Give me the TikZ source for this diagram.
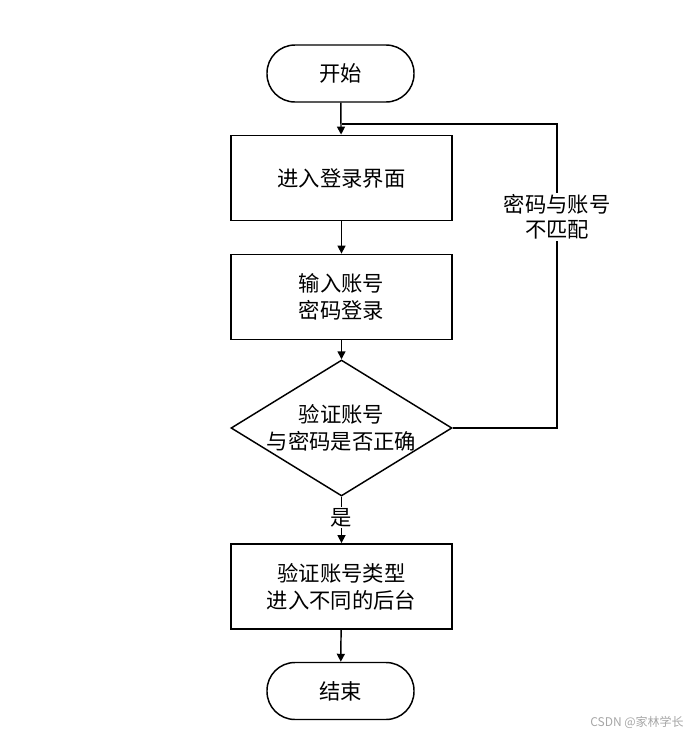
\documentclass[tikz,border=0pt]{standalone}
\usepackage{fontspec}
\newfontfamily\cjk{Noto Sans CJK SC}
\usetikzlibrary{shapes.geometric,arrows.meta}
\begin{document}
\begin{tikzpicture}[x=0.75pt,y=-0.75pt,
  line width=1.1pt,
  every node/.style={font=\cjk\fontsize{16}{20}\selectfont, align=center},
  term/.style={draw, rounded corners=21pt, minimum width=110.25pt, minimum height=42.75pt, inner sep=0pt},
  procbox/.style={draw, minimum width=165.75pt, minimum height=64pt, inner sep=0pt},
  arr/.style={-{Triangle[length=6pt,width=6pt]}},
  lbl/.style={fill=white, inner sep=1pt}]
\useasboundingbox (0,0) rectangle (695,736);
\node[term] (start) at (340.5,73.5) {开始};
\node[procbox] (b1) at (341.5,178) {进入登录界面};
\node[procbox] (b2) at (341.5,297) {输入账号\\密码登录};
\node[diamond, draw, minimum width=165.75pt, minimum height=102pt, inner sep=0pt] (d) at (341.5,428) {};
\node at (d) {验证账号\\与密码是否正确};
\node[procbox] (b3) at (341.5,586.5) {验证账号类型\\进入不同的后台};
\node[term] (end) at (340.5,691) {结束};
\coordinate (join) at (341.5,124);
\coordinate (rt) at (557,124);
\coordinate (rb) at (557,428);
\draw[arr] (start) -- (b1);
\draw[arr] (b1) -- (b2);
\draw[arr] (b2) -- (d);
\draw (d.east) -- (rb) -- (rt) -- (join);
\node[lbl, font=\cjk\fontsize{16}{19}\selectfont] (nm) at (557,217) {密码与账号\\不匹配};
\draw[arr] (d) -- (b3) node[lbl, pos=0.45] (yes) {是};
\draw[arr] (b3) -- (end);
\node[text=gray!70, font=\cjk\fontsize{9}{10}\selectfont] (wm) at (637,722) {CSDN @家林学长};
\end{tikzpicture}
\end{document}
